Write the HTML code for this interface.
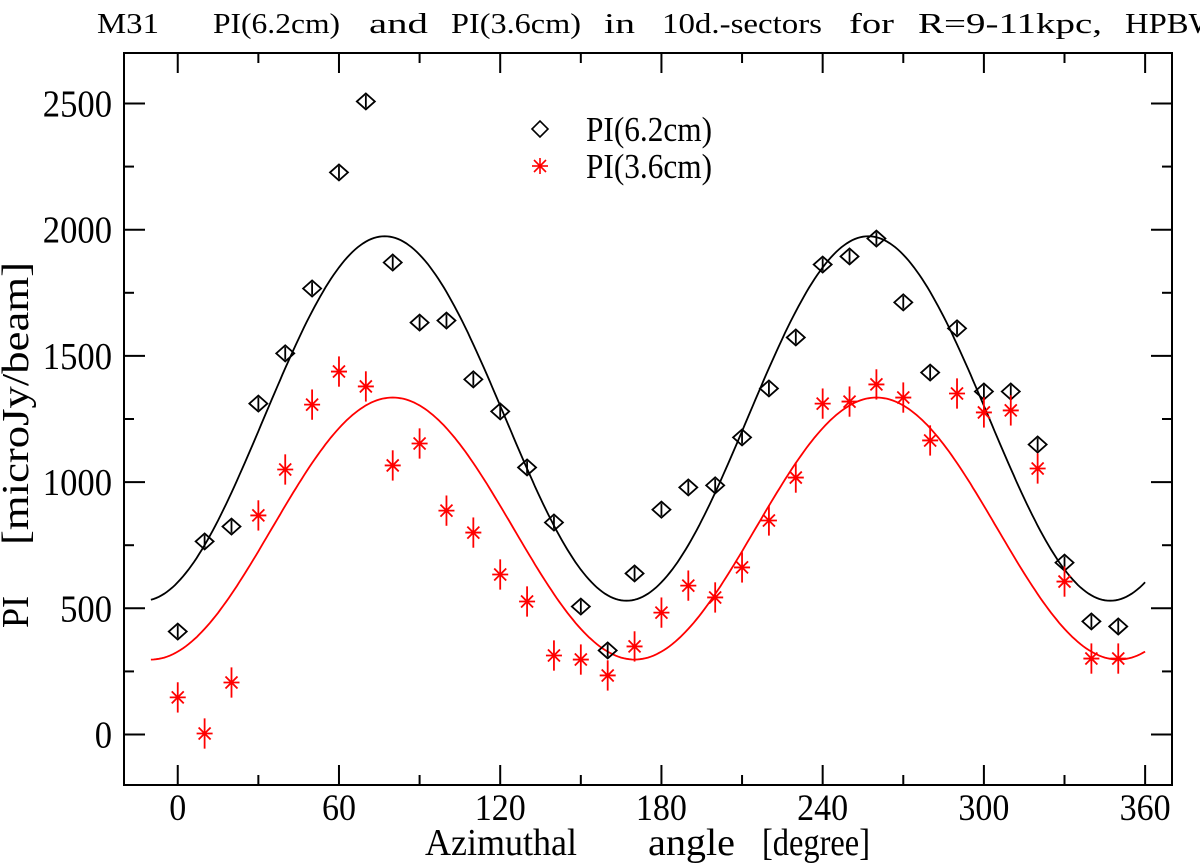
<!DOCTYPE html>
<html><head><meta charset="utf-8"><style>
html,body{margin:0;padding:0;background:#fff;overflow:hidden;}
svg{display:block;font-family:"Liberation Serif",serif;}
</style></head><body>
<svg id="chart" width="1200" height="863" viewBox="0 0 1200 863" xmlns="http://www.w3.org/2000/svg">
<g font-size="28" fill="#000">
<text x="97" y="33" textLength="62" lengthAdjust="spacingAndGlyphs">M31</text>
<text x="213" y="33" textLength="127" lengthAdjust="spacingAndGlyphs">PI(6.2cm)</text>
<text x="369" y="33" textLength="59" lengthAdjust="spacingAndGlyphs">and</text>
<text x="451" y="33" textLength="130" lengthAdjust="spacingAndGlyphs">PI(3.6cm)</text>
<text x="604" y="33" textLength="31" lengthAdjust="spacingAndGlyphs">in</text>
<text x="662" y="33" textLength="160" lengthAdjust="spacingAndGlyphs">10d.-sectors</text>
<text x="849" y="33" textLength="45" lengthAdjust="spacingAndGlyphs">for</text>
<text x="918" y="33" textLength="184" lengthAdjust="spacingAndGlyphs">R=9-11kpc,</text>
<text x="1125" y="33" textLength="135" lengthAdjust="spacingAndGlyphs">HPBW=3'</text>
</g>
<g id="axes"></g>
<g id="curves"></g>
<g id="points"></g>
<g>
<path d="M532 129 L540 121 L548 129 L540 137 Z" fill="none" stroke="#000" stroke-width="1.6"/>
<text x="586" y="141" font-size="35" textLength="126" lengthAdjust="spacingAndGlyphs">PI(6.2cm)</text>
<g stroke="#f00" stroke-width="1.6">
<line x1="540" y1="158" x2="540" y2="174"/><line x1="532" y1="166" x2="548" y2="166"/><line x1="534" y1="160" x2="546" y2="172"/><line x1="546" y1="160" x2="534" y2="172"/></g>
<text x="586" y="178" font-size="35" textLength="126" lengthAdjust="spacingAndGlyphs">PI(3.6cm)</text>
</g>
<g font-size="38">
<text x="425" y="855" textLength="152" lengthAdjust="spacingAndGlyphs">Azimuthal</text>
<text x="648" y="855" textLength="87" lengthAdjust="spacingAndGlyphs">angle</text>
<text x="762" y="855" textLength="108" lengthAdjust="spacingAndGlyphs">[degree]</text>
</g>
<g font-size="38" transform="translate(28,0) rotate(-90)">
<text x="-628" y="0" textLength="32" lengthAdjust="spacingAndGlyphs">PI</text>
<text x="-545" y="0" textLength="283" lengthAdjust="spacingAndGlyphs">[microJy/beam]</text>
</g>
</svg>
<script>
const angles=[0,10,20,30,40,50,60,70,80,90,100,110,120,130,140,150,160,170,180,190,200,210,220,230,240,250,260,270,280,290,300,310,320,330,340,350];
const pi6=[408,765,824,1311,1510,1767,2227,2508,1870,1632,1640,1407,1280,1058,840,507,333,638,891,979,987,1177,1371,1573,1862,1894,1965,1712,1434,1609,1359,1359,1149,681,448,428];
const pi3=[147,4,206,868,1050,1307,1438,1379,1066,1153,887,800,634,527,313,297,234,349,483,590,543,662,848,1018,1311,1319,1387,1335,1165,1351,1276,1284,1054,606,301,301];
const pi6Err=[25,25,25,25,25,25,25,25,25,25,25,25,25,25,25,25,25,25,25,25,25,25,25,25,25,25,25,25,25,25,25,25,25,25,25,25];
const pi3Err=[60,60,60,60,60,60,60,60,60,60,60,60,60,60,60,60,60,60,60,60,60,60,60,60,60,60,60,60,60,60,60,60,60,60,60,60];
const fit6=[1252,722,77];
const fit3=[816,519,80];
const xTicks=[0,60,120,180,240,300,360];
const xMinor=[30,90,150,210,270,330];
const yTicks=[0,500,1000,1500,2000,2500];
const yMinor=[250,750,1250,1750,2250];
const X0=124,X1=1172,Y0=53,Y1=785,XMIN=-20,XMAX=370,YMIN=-200,YMAX=2700;
const sx=v=>X0+(v-XMIN)/(XMAX-XMIN)*(X1-X0);
const sy=v=>Y1-(v-YMIN)/(YMAX-YMIN)*(Y1-Y0);
const NS="http://www.w3.org/2000/svg";
function mk(tag,parent,attrs){const e=document.createElementNS(NS,tag);for(const k in attrs)e.setAttribute(k,attrs[k]);parent.appendChild(e);return e;}
const axes=document.getElementById('axes');
const frame=mk('rect',axes,{x:X0,y:Y0,width:X1-X0,height:Y1-Y0,fill:'none',stroke:'#000','stroke-width':2});


xTicks.forEach(t=>{const x=sx(t);
 const a=mk('line',axes,{x1:x,x2:x,y1:Y1,y2:Y1-20,stroke:'#000','stroke-width':2});
 
 
 mk('line',axes,{x1:x,x2:x,y1:Y0,y2:Y0+20,stroke:'#000','stroke-width':2});
 const w=String(t).length*17;
 const l=mk('text',axes,{x:x-w/2,y:820,'font-size':37,textLength:w,lengthAdjust:'spacingAndGlyphs'});l.textContent=t;
 
 });
xMinor.forEach(t=>{const x=sx(t);mk('line',axes,{x1:x,x2:x,y1:Y1,y2:Y1-10,stroke:'#000','stroke-width':2});mk('line',axes,{x1:x,x2:x,y1:Y0,y2:Y0+10,stroke:'#000','stroke-width':2});});
yTicks.forEach(t=>{const y=sy(t);
 const a=mk('line',axes,{x1:X0,x2:X0+21,y1:y,y2:y,stroke:'#000','stroke-width':2});
 
 
 mk('line',axes,{x1:X1,x2:X1-21,y1:y,y2:y,stroke:'#000','stroke-width':2});
 const w=String(t).length*17.3;
 const l=mk('text',axes,{x:112-w,y:y+13,'font-size':38,textLength:w,lengthAdjust:'spacingAndGlyphs'});l.textContent=t;
 
 });
yMinor.forEach(t=>{const y=sy(t);mk('line',axes,{x1:X0,x2:X0+10,y1:y,y2:y,stroke:'#000','stroke-width':2});mk('line',axes,{x1:X1,x2:X1-10,y1:y,y2:y,stroke:'#000','stroke-width':2});});
const curves=document.getElementById('curves');
function curve(p,color,name){let d='';for(let a=-10;a<=360;a+=1){const v=p[0]+p[1]*Math.cos(2*(a-p[2])*Math.PI/180);d+=(a===-10?'M':'L')+sx(a).toFixed(1)+' '+sy(v).toFixed(1);}
 const c=mk('path',curves,{d:d,fill:'none',stroke:color,'stroke-width':1.8});
 
 }
curve(fit6,'#000','fit-curve-6cm');
curve(fit3,'#f00','fit-curve-3cm');
const pts=document.getElementById('points');
angles.forEach((a,i)=>{const x=sx(a),y=sy(pi6[i]),e=(sy(pi6[i]-pi6Err[i])-y);
 const g=mk('g',pts,{fill:'none',stroke:'#000','stroke-width':1.8});
 
 
 mk('path',g,{d:`M${x-9} ${y} L${x} ${y-8} L${x+9} ${y} L${x} ${y+8} Z`});
 mk('line',g,{x1:x,x2:x,y1:y-e,y2:y+e});});
angles.forEach((a,i)=>{const x=sx(a),y=sy(pi3[i]),e=(sy(pi3[i]-pi3Err[i])-y);
 const g=mk('g',pts,{stroke:'#f00','stroke-width':1.8});
 
 
 mk('line',g,{x1:x,x2:x,y1:y-e,y2:y+e});
 mk('line',g,{x1:x-8,x2:x+8,y1:y,y2:y});
 mk('line',g,{x1:x-6,x2:x+6,y1:y-6,y2:y+6});
 mk('line',g,{x1:x+6,x2:x-6,y1:y-6,y2:y+6});});
</script>
</body></html>
